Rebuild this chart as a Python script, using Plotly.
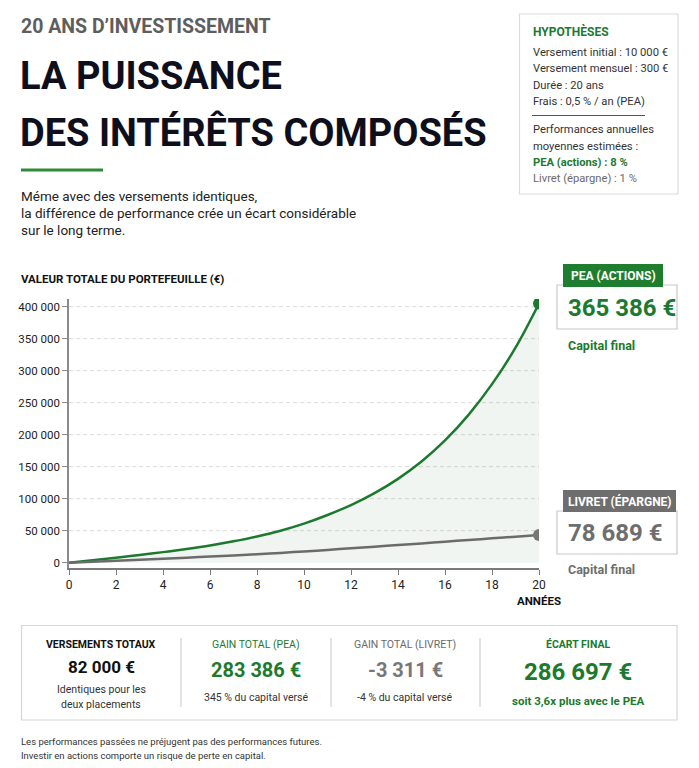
import plotly.graph_objects as go

# ---------------- data ----------------
years = list(range(0, 21))
pea_values = [0, 3800, 7800, 12000, 16500, 21500, 27000, 33500, 41000, 50000, 61000,
              74500, 90000, 108700, 131000, 158000, 191000, 231000, 279000, 336000, 405000]
livret_values = [0, 1500, 3000, 4600, 6300, 7900, 9500, 11300, 13100, 15300, 17500,
                 20000, 22500, 25000, 27500, 30100, 32800, 35400, 38000, 40700, 43300]
y_tick_values = [0, 50000, 100000, 150000, 200000, 250000, 300000, 350000, 400000]
y_tick_labels = ["0", "50 000", "100 000", "150 000", "200 000", "250 000", "300 000", "350 000", "400 000"]
x_tick_values = [0, 2, 4, 6, 8, 10, 12, 14, 16, 18, 20]

hyp_lines = ["Versement initial : 10 000 €", "Versement mensuel : 300 €", "Durée : 20 ans", "Frais : 0,5 % / an (PEA)"]
pea_final_label = "365 386 €"
livret_final_label = "78 689 €"

# ---------------- style ----------------
FONT = "Roboto, Liberation Sans, sans-serif"
GREEN = "#1c7a2e"
GREEN_BOX = "#1f7d2f"
GRAY = "#6b6b6b"
DARK = "#0e0e1c"

W, H = 699, 768
L, R, T, B = 69, 160, 299, 200
PW, PH = W - L - R, H - T - B


def px(x):
    return (x - L) / PW


def py(y):
    return (H - B - y) / PH


fig = go.Figure()

fig.add_trace(go.Scatter(x=years, y=pea_values, mode="lines", line=dict(color=GREEN, width=2.5, shape="spline", smoothing=1.0),
                         fill="tozeroy", fillcolor="rgba(40,120,60,0.07)", hoverinfo="skip"))
fig.add_trace(go.Scatter(x=years, y=livret_values, mode="lines", line=dict(color=GRAY, width=2.5, shape="spline", smoothing=1.0),
                         hoverinfo="skip"))
fig.add_trace(go.Scatter(x=[years[-1]], y=[pea_values[-1]], mode="markers",
                         marker=dict(color=GREEN, size=12), hoverinfo="skip"))
fig.add_trace(go.Scatter(x=[years[-1]], y=[livret_values[-1]], mode="markers",
                         marker=dict(color="#777777", size=12), hoverinfo="skip"))

shapes = []
# gridlines
for v in y_tick_values[1:]:
    shapes.append(dict(type="line", xref="paper", yref="y", x0=0, x1=1, y0=v, y1=v,
                       line=dict(color="#dadada", width=1, dash="4px,3px"), layer="below"))
# small leaders from markers
for v, c in [(pea_values[-1], GREEN), (livret_values[-1], GRAY)]:
    shapes.append(dict(type="line", xref="x", yref="y", xsizemode="pixel", ysizemode="pixel",
                       xanchor=years[-1], yanchor=v, x0=2, x1=6, y0=4, y1=10,
                       line=dict(color=c, width=1)))

# title underline
shapes.append(dict(type="line", xref="paper", yref="paper", x0=px(21), x1=px(103), y0=py(170), y1=py(170),
                   line=dict(color="#2e8b3a", width=3)))
# hypotheses box
shapes.append(dict(type="rect", xref="paper", yref="paper", x0=px(519.5), x1=px(678), y0=py(14), y1=py(194),
                   line=dict(color="#dcdcdc", width=1.2), fillcolor="white"))
shapes.append(dict(type="line", xref="paper", yref="paper", x0=px(532), x1=px(645), y0=py(115.5), y1=py(115.5),
                   line=dict(color="#555555", width=1)))
# PEA label
shapes.append(dict(type="rect", xref="paper", yref="paper", x0=px(557), x1=px(677), y0=py(285), y1=py(329),
                   line=dict(color="#c8c8c8", width=1.2), fillcolor="white"))
shapes.append(dict(type="rect", xref="paper", yref="paper", x0=px(563), x1=px(663), y0=py(264), y1=py(287),
                   line=dict(width=0), fillcolor=GREEN_BOX))
# Livret label
shapes.append(dict(type="rect", xref="paper", yref="paper", x0=px(557), x1=px(677), y0=py(511), y1=py(554),
                   line=dict(color="#c8c8c8", width=1.2), fillcolor="white"))
shapes.append(dict(type="rect", xref="paper", yref="paper", x0=px(563), x1=px(676), y0=py(490), y1=py(512),
                   line=dict(width=0), fillcolor="#6e6e6e"))
# bottom box
shapes.append(dict(type="rect", xref="paper", yref="paper", x0=px(21.5), x1=px(677), y0=py(625.5), y1=py(720),
                   line=dict(color="#d6d6d6", width=1.2), fillcolor="white"))
for sx in [181, 331, 480]:
    shapes.append(dict(type="line", xref="paper", yref="paper", x0=px(sx), x1=px(sx), y0=py(638), y1=py(707),
                       line=dict(color="#cfcfcf", width=1.2)))

annotations = []


def ann(text, x, y, size, color, anchor="left", bold=False):
    annotations.append(dict(text=("<b>%s</b>" % text) if bold else text, xref="paper", yref="paper",
                            x=px(x), y=py(y), xanchor=anchor, yanchor="middle", showarrow=False,
                            font=dict(family=FONT, size=size, color=color), align=anchor if anchor != "center" else "center"))


ann("20 ANS D’INVESTISSEMENT", 19, 27, 19.5, "#5e5e5e", bold=True)
ann("LA PUISSANCE", 18, 76, 38, DARK, bold=True)
ann("DES INTÉRÊTS COMPOSÉS", 18, 132, 38, DARK, bold=True)
ann("Méme avec des versements identiques,", 19, 196, 13.5, "#222222")
ann("la différence de performance crée un écart considérable", 19, 213, 13.5, "#222222")
ann("sur le long terme.", 19, 230, 13.5, "#222222")

ann("HYPOTHÈSES", 531, 31.5, 12, GREEN, bold=True)
for i, t in enumerate(hyp_lines):
    ann(t, 531, 52.3 + i * 16.5, 11.2, "#333333")
ann("Performances annuelles", 531, 129.5, 11.2, "#333333")
ann("moyennes estimées :", 531, 146, 11.2, "#333333")
ann("PEA (actions) : 8 %", 531, 162.3, 11.2, GREEN, bold=True)
ann("Livret (épargne) : 1 %", 531, 179, 11.2, "#6a6a6a")

ann("VALEUR TOTALE DU PORTEFEUILLE (€)", 19, 278.5, 11.5, "#111111", bold=True)
ann("ANNÉES", 539, 601, 11.5, "#111111", anchor="center", bold=True)

ann("PEA (ACTIONS)", 613, 275.5, 12, "white", anchor="center", bold=True)
ann(pea_final_label, 566, 308, 24, GREEN, bold=True)
ann("Capital final", 566, 345, 12.5, GREEN, bold=True)
ann("LIVRET (ÉPARGNE)", 619.5, 501, 12, "white", anchor="center", bold=True)
ann(livret_final_label, 566, 533, 24, "#6e6e6e", bold=True)
ann("Capital final", 566, 569.5, 12.5, "#6e6e6e", bold=True)

# bottom box
ann("VERSEMENTS TOTAUX", 101, 644, 10.5, "#111111", anchor="center", bold=True)
ann("82 000 €", 101, 667, 17, "#111111", anchor="center", bold=True)
ann("Identiques pour les", 101, 689, 10.5, "#333333", anchor="center")
ann("deux placements", 101, 704.5, 10.5, "#333333", anchor="center")
ann("GAIN TOTAL (PEA)", 256, 644, 10.5, GREEN, anchor="center")
ann("283 386 €", 256, 670, 20, GREEN, anchor="center", bold=True)
ann("345 % du capital versé", 256, 697.5, 10.5, "#333333", anchor="center")
ann("GAIN TOTAL (LIVRET)", 405, 644, 10.5, "#6a6a6a", anchor="center")
ann("-3 311 €", 405, 670, 20, "#777777", anchor="center", bold=True)
ann("-4 % du capital versé", 405, 697.5, 10.5, "#333333", anchor="center")
ann("ÉCART FINAL", 578, 644, 10.5, GREEN, anchor="center", bold=True)
ann("286 697 €", 578, 671.5, 24, GREEN, anchor="center", bold=True)
ann("soit 3,6x plus avec le PEA", 578, 701, 11.5, GREEN, anchor="center", bold=True)

ann("Les performances passées ne préjugent pas des performances futures.", 19, 741.5, 9.5, "#333333")
ann("Investir en actions comporte un risque de perte en capital.", 19, 755, 9.5, "#333333")

fig.update_layout(
    width=W, height=H, margin=dict(l=L, r=R, t=T, b=B),
    paper_bgcolor="white", plot_bgcolor="white", showlegend=False,
    font=dict(family=FONT, size=12, color="#333333"),
    shapes=shapes, annotations=annotations,
    xaxis=dict(range=[0, 20], tickvals=x_tick_values, showgrid=False, zeroline=False,
               showline=True, linecolor="#7a7a7a", linewidth=2, ticks="outside", ticklen=5,
               tickcolor="#7a7a7a", tickfont=dict(family=FONT, size=12, color="#222222")),
    yaxis=dict(range=[-8300, 412000], tickvals=y_tick_values, ticktext=y_tick_labels, showgrid=False,
               zeroline=False, showline=True, linecolor="#8a8a8a", linewidth=1.5, ticks="outside",
               ticklen=5, tickcolor="#8a8a8a", tickfont=dict(family=FONT, size=11.5, color="#222222")),
)

fig.write_html("out.html", config={"displayModeBar": False})
